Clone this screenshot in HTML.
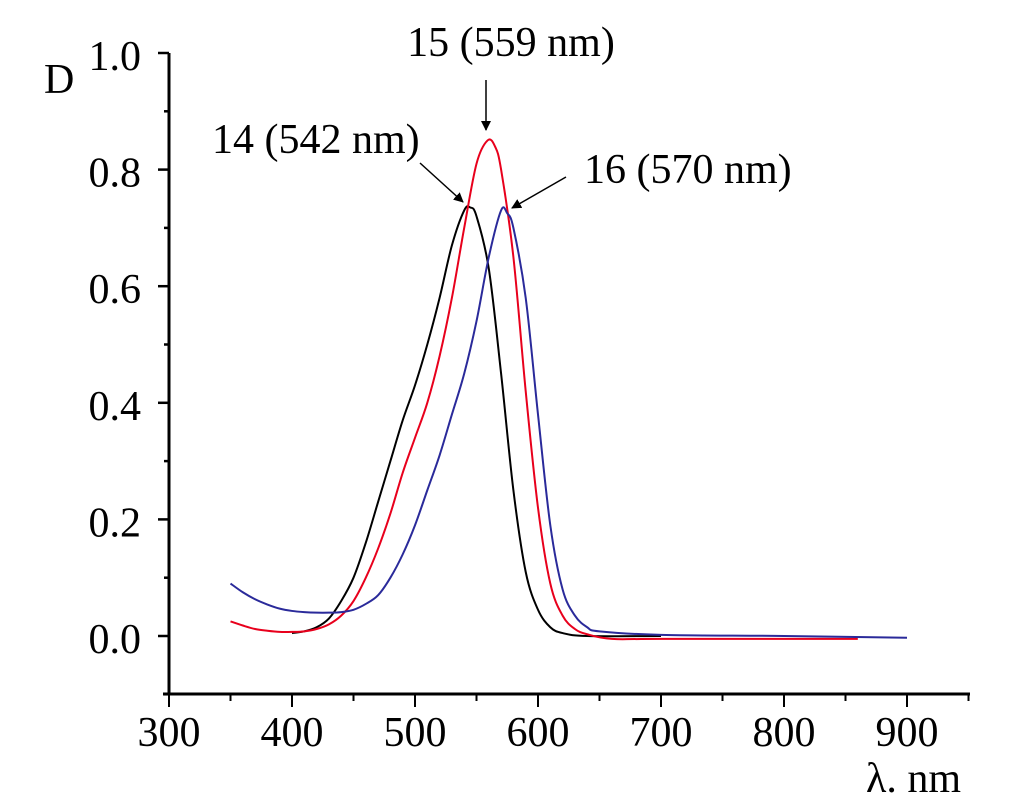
<!DOCTYPE html>
<html><head><meta charset="utf-8"><style>
body{margin:0;background:#fff}
text{font-family:"Liberation Serif",serif;fill:#000}
</style></head><body>
<svg id="chart" width="1012" height="799" xmlns="http://www.w3.org/2000/svg">
<defs><marker id="ah" markerWidth="10" markerHeight="10" refX="9" refY="5" orient="auto" markerUnits="userSpaceOnUse"><path d="M0,0 L10,5 L0,10 z" fill="#000"/></marker></defs>
<g id="axes"></g><g id="series"></g>
<text x="44" y="93" font-size="42">D</text>
<text x="866" y="792" font-size="42">λ. nm</text>
<text x="511" y="56" font-size="42" text-anchor="middle">15 (559 nm)</text>
<text x="212" y="153" font-size="42">14 (542 nm)</text>
<text x="584" y="183" font-size="42">16 (570 nm)</text>
<line x1="486" y1="80" x2="486" y2="130" stroke="#000" stroke-width="1.5" marker-end="url(#ah)"/>
<line x1="420" y1="163" x2="463" y2="202" stroke="#000" stroke-width="1.5" marker-end="url(#ah)"/>
<line x1="566" y1="177" x2="512" y2="208" stroke="#000" stroke-width="1.5" marker-end="url(#ah)"/>
</svg>
<script>
const xTicks=[300,400,500,600,700,800,900];
const yTicks=[0.0,0.2,0.4,0.6,0.8,1.0];
const blackX=[400,410,420,430,440,450,460,470,480,490,500,510,520,530,540,545,550,560,570,580,590,600,610,620,640,700];
const blackY=[.005,.008,.015,.03,.06,.10,.16,.23,.30,.37,.43,.50,.58,.67,.73,.735,.72,.63,.45,.25,.11,.045,.015,.005,0,0];
const redX=[350,360,370,380,390,400,410,420,430,440,450,460,470,480,490,500,510,520,530,540,550,559,565,570,580,590,600,610,620,630,640,660,700,860];
const redY=[.025,.018,.012,.009,.007,.007,.008,.012,.02,.035,.06,.10,.15,.21,.28,.34,.40,.48,.58,.70,.81,.85,.84,.80,.65,.42,.22,.09,.035,.012,.003,-.005,-.005,-.005];
const blueX=[350,360,370,380,390,400,410,420,430,440,450,460,470,480,490,500,510,520,530,540,550,560,570,575,580,590,600,610,620,630,640,650,700,800,900];
const blueY=[.09,.075,.063,.054,.047,.043,.041,.04,.04,.041,.045,.055,.07,.10,.14,.19,.25,.31,.38,.45,.54,.65,.73,.725,.70,.58,.38,.19,.08,.035,.015,.008,.002,0,-.003];
const X=v=>169+(v-300)*1.23, Y=v=>636-v*583;
const NS="http://www.w3.org/2000/svg";
const ax=document.getElementById('axes'), se=document.getElementById('series');
function mk(tag,at,p){const e=document.createElementNS(NS,tag);for(const k in at)e.setAttribute(k,at[k]);p.appendChild(e);return e;}
let e=mk('line',{x1:169,y1:53,x2:169,y2:694,stroke:'#000','stroke-width':3},ax);


e=mk('line',{x1:163,y1:694,x2:970,y2:694,stroke:'#000','stroke-width':3},ax);


for(let v=300;v<=950;v+=50){const big=v%100===0;mk('line',{x1:X(v),y1:694,x2:X(v),y2:big?707:701,stroke:'#000','stroke-width':2},ax);}
for(let i=-1;i<=10;i++){const v=i/10;const big=i%2===0;mk('line',{x1:big?158:164,y1:Y(v),x2:169,y2:Y(v),stroke:'#000','stroke-width':2.5},ax);}
xTicks.forEach(v=>{const t=mk('text',{x:X(v),y:746,'font-size':42,'text-anchor':'middle'},ax);t.textContent=v;

});
yTicks.forEach(v=>{const t=mk('text',{x:141,y:Y(v)+17,'font-size':42,'text-anchor':'end'},ax);t.textContent=v.toFixed(1);

});
function line(xs,ys,c,n){
  const P=xs.map((x,i)=>[X(x),Y(ys[i])]);
  let d='M'+P[0][0]+','+P[0][1];
  for(let i=0;i<P.length-1;i++){
    const p0=P[Math.max(0,i-1)],p1=P[i],p2=P[i+1],p3=P[Math.min(P.length-1,i+2)];
    const c1=[p1[0]+(p2[0]-p0[0])/6,p1[1]+(p2[1]-p0[1])/6];
    const c2=[p2[0]-(p3[0]-p1[0])/6,p2[1]-(p3[1]-p1[1])/6];
    d+=' C'+c1+' '+c2+' '+p2;
  }
  const p=mk('path',{d:d,fill:'none',stroke:c,'stroke-width':2},se);
  
  }
line(blackX,blackY,'#000','series-14');
line(redX,redY,'#e8001c','series-15');
line(blueX,blueY,'#2a2a9a','series-16');
</script>
</body></html>
